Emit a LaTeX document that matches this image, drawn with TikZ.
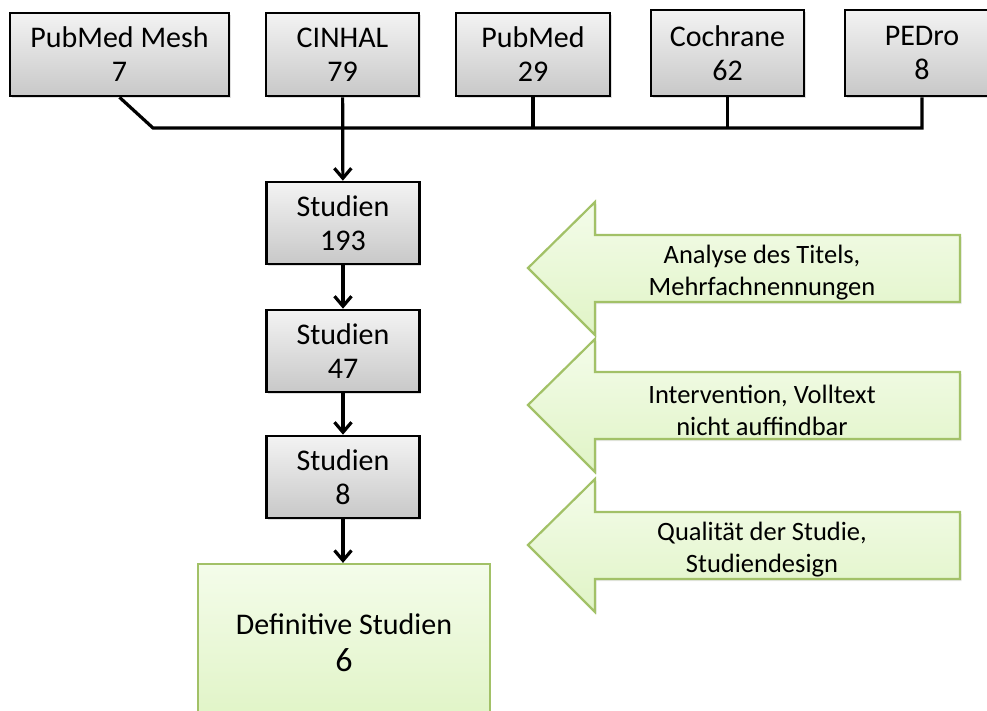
\documentclass[tikz,border=0pt]{standalone}
\usepackage{fontspec}
\setmainfont{Carlito}
\usetikzlibrary{arrows.meta,shadows}

\definecolor{boxtop}{HTML}{F3F3F3}
\definecolor{boxbot}{HTML}{C8C8C8}
\definecolor{leaftop}{HTML}{F4FCEA}
\definecolor{leafbot}{HTML}{E0F4C6}
\definecolor{leafline}{HTML}{A2C167}

\tikzstyle{dbbox}=[draw,line width=2.6pt,rectangle,inner sep=0pt,top color=boxtop,bottom color=boxbot,align=center,font=\fontsize{30}{34}\selectfont,drop shadow={opacity=0.25,shadow xshift=1.5pt,shadow yshift=-2pt}]
\tikzstyle{finalbox}=[draw=leafline,line width=2.2pt,rectangle,inner sep=0pt,top color=leaftop,bottom color=leafbot,align=center,font=\fontsize{30}{37}\selectfont]
\tikzstyle{conn}=[draw,line width=3.2pt,-]
\tikzstyle{flow}=[draw,line width=3.2pt,-{Straight Barb[length=10pt,width=17pt]}]
\tikzstyle{exclarrow}=[draw=leafline,line width=2.2pt,line join=miter,top color=leaftop,bottom color=leafbot,drop shadow={opacity=0.18,shadow xshift=1.5pt,shadow yshift=-2pt}]
\tikzstyle{excltext}=[align=center,font=\fontsize{26.5}{32}\selectfont]
\newcommand{\pxunit}{1pt}

\begin{document}
\begin{tikzpicture}[x=\pxunit, y=-\pxunit]
    \useasboundingbox (0,0) rectangle (987,711);
    % the databases on top
    \foreach \pos/\w/\h/\name/\txt in {{(119.5,54.5)/219/83/pmesh/{PubMed Mesh\\7}},
        {(342.5,54.5)/153/83/cinhal/{CINHAL\\79}}, {(533,54.5)/154/83/pubmed/{PubMed\\29}},
        {(727.5,53)/153/86/cochrane/{Cochrane\\62}}, {(922,53)/154/86/pedro/{PEDro\\8}}}
        \node[dbbox, minimum width=\w pt, minimum height=\h pt] (\name) at \pos {\txt};
    % the selection steps
    \foreach \pos/\name/\txt in {{(343,223)/sA/{Studien\\193}}, {(343,351)/sB/{Studien\\47}},
        {(343,477)/sC/{Studien\\8}}}
        \node[dbbox, minimum width=153pt, minimum height=82pt] (\name) at \pos {\txt};
    \node[finalbox, minimum width=292pt, minimum height=158pt] (final) at (344,643)
        {Definitive Studien\\{\fontsize{34}{37}\selectfont 6}};

    % collecting line and arrows
    \coordinate (busL) at (153,128);
    \path[conn] (pmesh.south) -- (busL) -- (busL -| pedro.south) -- (pedro.south);
    \path[conn] (pubmed.south) -- (pubmed.south |- busL);
    \path[conn] (cochrane.south) -- (cochrane.south |- busL);
    \foreach \source/\dest in {cinhal/sA, sA/sB, sB/sC}
        \path[flow] (\source) -- (\dest);
    \path[flow] (sC.south) -- (sC.south |- final.north);

    % reasons for exclusion
    \foreach \y/\name/\txt in {268/titel/{Analyse des Titels,\\Mehrfachnennungen},
        405/volltext/{Intervention, Volltext\\nicht auffindbar},
        545/design/{Qualität der Studie,\\Studiendesign}}
    {
        \path[exclarrow] (528,\y) -- (595,\y-66) -- (595,\y-33) -- (960,\y-33)
            -- (960,\y+34) -- (595,\y+34) -- (595,\y+67) -- cycle;
        \node[excltext] (\name) at (762,\y+5) {\txt};
    }
\end{tikzpicture}
\end{document}
